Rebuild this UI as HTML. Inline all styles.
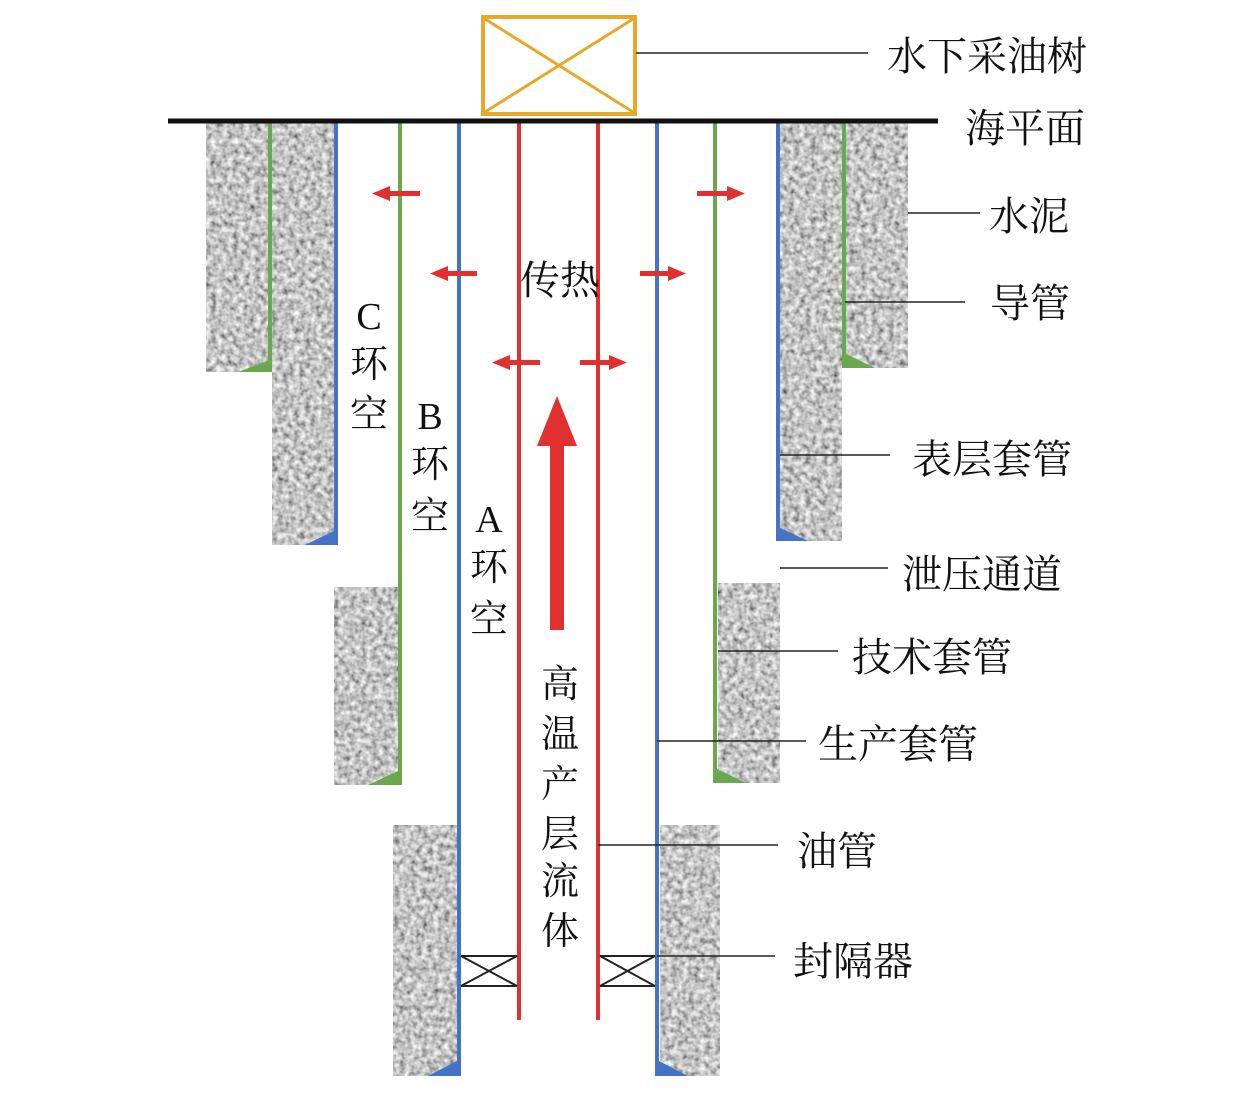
<!DOCTYPE html>
<html><head><meta charset="utf-8">
<style>
html,body{margin:0;padding:0;background:#fff;}
svg{display:block;}
text{font-family:"Liberation Serif","Noto Serif CJK SC",serif;fill:#111;}
</style></head><body>
<svg width="1259" height="1099" viewBox="0 0 1259 1099" xmlns="http://www.w3.org/2000/svg">
<defs>
<filter id="cem" x="0" y="0" width="1" height="1">
<feTurbulence type="fractalNoise" baseFrequency="0.18" numOctaves="2" seed="3" result="n"/>
<feColorMatrix in="n" type="matrix" values="1.2 0 0 0 -0.05  1.2 0 0 0 -0.05  1.2 0 0 0 -0.03  0 0 0 0 1" result="g"/>
<feColorMatrix in="g" type="saturate" values="0" result="gg"/>
<feComposite in="gg" in2="SourceGraphic" operator="in"/>
</filter>
</defs>
<g fill="#9ea1a6" filter="url(#cem)">
<rect x="206" y="123" width="64" height="249"/>
<rect x="272" y="123" width="64" height="422"/>
<rect x="334" y="587" width="64" height="198"/>
<rect x="393" y="825" width="65" height="251"/>
<rect x="660" y="825" width="60" height="251"/>
<rect x="718" y="583" width="62" height="200"/>
<rect x="780" y="123" width="62" height="418"/>
<rect x="846" y="123" width="62" height="245"/>
</g>
<g>
<polygon points="238,372 270,372 270,360" fill="#6aa84f"/>
<polygon points="305,545 336,545 336,530" fill="#4472c4"/>
<polygon points="368,785 400,785 400,770" fill="#6aa84f"/>
<polygon points="428,1076 459,1076 459,1060" fill="#4472c4"/>
<polygon points="657,1076 688,1076 657,1060" fill="#4472c4"/>
<polygon points="715,783 746,783 715,768" fill="#6aa84f"/>
<polygon points="778,541 808,541 778,527" fill="#4472c4"/>
<polygon points="844,368 875,368 844,353" fill="#6aa84f"/>
</g>
<g stroke-width="4">
<line x1="270" y1="123" x2="270" y2="372" stroke="#6aa84f"/>
<line x1="336" y1="123" x2="336" y2="545" stroke="#4472c4"/>
<line x1="400" y1="123" x2="400" y2="785" stroke="#6aa84f"/>
<line x1="459" y1="123" x2="459" y2="1076" stroke="#4472c4"/>
<line x1="519" y1="123" x2="519" y2="1020" stroke="#e03030"/>
<line x1="598" y1="123" x2="598" y2="1020" stroke="#e03030"/>
<line x1="657" y1="123" x2="657" y2="1076" stroke="#4472c4"/>
<line x1="715" y1="123" x2="715" y2="783" stroke="#6aa84f"/>
<line x1="778" y1="123" x2="778" y2="541" stroke="#4472c4"/>
<line x1="844" y1="123" x2="844" y2="368" stroke="#6aa84f"/>
</g>
<line x1="168" y1="121" x2="938" y2="121" stroke="#111" stroke-width="5"/>
<rect x="483" y="17" width="152" height="97" fill="none" stroke="#e8a92a" stroke-width="4"/>
<path d="M485 19 L633 112 M633 19 L485 112" stroke="#e8a92a" stroke-width="3"/>
<g stroke="#222" stroke-width="2" fill="none">
<path d="M461 956 H517 M461 986 H517 M461 956 L517 986 M517 956 L461 986"/>
<path d="M600 956 H655 M600 986 H655 M600 956 L655 986 M655 956 L600 986"/>
</g>
<g fill="#e03030">
<rect x="386" y="191" width="34" height="5"/><polygon points="372,193.5 390,186 390,201"/>
<rect x="697" y="191" width="34" height="5"/><polygon points="745,193.5 727,186 727,201"/>
<rect x="443" y="271" width="34" height="5"/><polygon points="430,273.5 448,266 448,281"/>
<rect x="640" y="271" width="33" height="5"/><polygon points="686,273.5 668,266 668,281"/>
<rect x="506" y="360" width="34" height="5"/><polygon points="492,362.5 510,355 510,370"/>
<rect x="580" y="360" width="33" height="5"/><polygon points="627,362.5 609,355 609,370"/>
<rect x="550" y="440" width="14" height="190"/><polygon points="557,396 537,446 577,446"/>
</g>
<g stroke="#222" stroke-width="1.5">
<line x1="636" y1="53" x2="868" y2="53"/>
<line x1="908" y1="213" x2="980" y2="213"/>
<line x1="845" y1="302" x2="965" y2="302"/>
<line x1="780" y1="455" x2="890" y2="455"/>
<line x1="780" y1="568" x2="888" y2="568"/>
<line x1="718" y1="651" x2="838" y2="651"/>
<line x1="657" y1="741" x2="806" y2="741"/>
<line x1="598" y1="845" x2="778" y2="845"/>
<line x1="657" y1="956" x2="775" y2="956"/>
</g>
<g font-size="40">
<text x="887" y="70">水下采油树</text>
<text x="965" y="142">海平面</text>
<text x="989" y="230">水泥</text>
<text x="990" y="317">导管</text>
<text x="912" y="473">表层套管</text>
<text x="902" y="588">泄压通道</text>
<text x="852" y="671">技术套管</text>
<text x="818" y="758">生产套管</text>
<text x="797" y="865">油管</text>
<text x="793" y="975">封隔器</text>
<text x="520" y="294" font-size="40">传热</text>
</g>
<g font-size="38" text-anchor="middle">
<text x="369" y="329">C</text><text x="369" y="377">环</text><text x="369" y="427">空</text>
<text x="430" y="429">B</text><text x="430" y="477">环</text><text x="430" y="529">空</text>
<text x="489" y="532">A</text><text x="489" y="580">环</text><text x="489" y="632">空</text>
<text x="560" y="697">高</text><text x="560" y="747">温</text><text x="560" y="797">产</text>
<text x="560" y="847">层</text><text x="560" y="894">流</text><text x="560" y="944">体</text>
</g>
</svg>
</body></html>
